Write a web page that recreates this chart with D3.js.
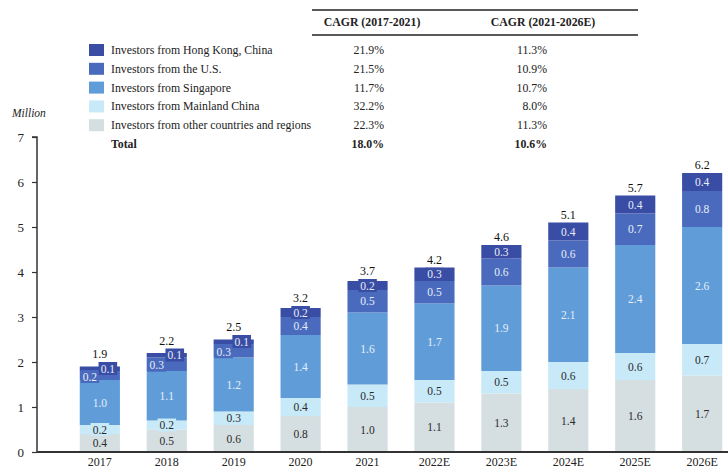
<!DOCTYPE html>
<html>
<head>
<meta charset="utf-8">
<script src="https://cdn.jsdelivr.net/npm/d3@7"></script>
<style>
  html, body { margin: 0; padding: 0; background: #fff; }
  svg { display: block; font-family: "Liberation Serif", "DejaVu Serif", serif; }
</style>
</head>
<body>
<svg id="chart" width="728" height="470"></svg>
<script>
// ---------- data ----------
const years = ["2017","2018","2019","2020","2021","2022E","2023E","2024E","2025E","2026E"];
const seriesNames = [
  "Investors from other countries and regions",
  "Investors from Mainland China",
  "Investors from Singapore",
  "Investors from the U.S.",
  "Investors from Hong Kong, China"
];
const otherValues     = [0.4,0.5,0.6,0.8,1.0,1.1,1.3,1.4,1.6,1.7];
const mainlandValues  = [0.2,0.2,0.3,0.4,0.5,0.5,0.5,0.6,0.6,0.7];
const singaporeValues = [1.0,1.1,1.2,1.4,1.6,1.7,1.9,2.1,2.4,2.6];
const usValues        = [0.2,0.3,0.3,0.4,0.5,0.5,0.6,0.6,0.7,0.8];
const hkValues        = [0.1,0.1,0.1,0.2,0.2,0.3,0.3,0.4,0.4,0.4];
const totalValues     = [1.9,2.2,2.5,3.2,3.7,4.2,4.6,5.1,5.7,6.2];
const yTicks = [0,1,2,3,4,5,6,7];

// legend / CAGR table (top to bottom)
const legendNames = [
  "Investors from Hong Kong, China",
  "Investors from the U.S.",
  "Investors from Singapore",
  "Investors from Mainland China",
  "Investors from other countries and regions"
];
const cagrHeaders = ["CAGR (2017-2021)", "CAGR (2021-2026E)"];
const cagr1 = ["21.9%","21.5%","11.7%","32.2%","22.3%"];
const cagr2 = ["11.3%","10.9%","10.7%","8.0%","11.3%"];
const totalLabel = "Total";
const totalCagr = ["18.0%","10.6%"];

// ---------- styles ----------
const colors = {
  "Investors from other countries and regions": "#d5dfe1",
  "Investors from Mainland China": "#c8e9f8",
  "Investors from Singapore": "#609dd8",
  "Investors from the U.S.": "#4a6bbd",
  "Investors from Hong Kong, China": "#3a4da5"
};
const lightText = "#e6edf8", darkText = "#2a2a2a";
const textColorFor = {
  "Investors from other countries and regions": darkText,
  "Investors from Mainland China": darkText,
  "Investors from Singapore": lightText,
  "Investors from the U.S.": lightText,
  "Investors from Hong Kong, China": lightText
};

const svg = d3.select("#chart");
const W = 728, H = 470;
const axisX = 37;

const x = d3.scaleBand().domain(years).range([53, 749]).paddingInner(0.4).paddingOuter(0.4);
const y = d3.scaleLinear().domain([0, 7]).range([452, 137]);

// stacked data
const rows = years.map((yr, i) => ({
  year: yr,
  "Investors from other countries and regions": otherValues[i],
  "Investors from Mainland China": mainlandValues[i],
  "Investors from Singapore": singaporeValues[i],
  "Investors from the U.S.": usValues[i],
  "Investors from Hong Kong, China": hkValues[i]
}));
const stack = d3.stack().keys(seriesNames)(rows);

// bars
const gBars = svg.append("g");
stack.forEach(layer => {
  gBars.selectAll(null).data(layer).enter().append("rect")
    .attr("x", d => x(d.data.year))
    .attr("width", x.bandwidth())
    .attr("y", d => y(d[1]))
    .attr("height", d => y(d[0]) - y(d[1]))
    .attr("fill", colors[layer.key]);
});

// segment labels with background boxes
const gLab = svg.append("g").attr("font-size", 11.5);
const topExtent = years.map(yr => y(0));
stack.forEach(layer => {
  layer.forEach((d, i) => {
    const key = layer.key;
    const v = d[1] - d[0];
    let cx = x(d.data.year) + x.bandwidth() / 2;
    let cy = (y(d[0]) + y(d[1])) / 2;
    const hkTiny = hkValues[i] < 0.15;
    if (hkTiny && key === "Investors from the U.S.") { cx -= 10; cy += 1; }
    if (hkTiny && key === "Investors from Hong Kong, China") { cx += 8; cy = y(d[1]) + 2; }
    const txt = v.toFixed(1);
    const t = gLab.append("text")
      .attr("x", cx).attr("y", cy)
      .attr("text-anchor", "middle")
      .attr("dominant-baseline", "central")
      .attr("fill", textColorFor[key])
      .text(txt);
    const bb = t.node().getBBox();
    const bw = bb.width + 4, bh = 13;
    gLab.insert("rect", () => t.node())
      .attr("x", cx - bw / 2).attr("y", cy - bh / 2)
      .attr("width", bw).attr("height", bh)
      .attr("fill", colors[key]);
    topExtent[i] = Math.min(topExtent[i], y(d[1]), cy - bh / 2);
  });
});

// totals
svg.append("g").selectAll("text").data(years).enter().append("text")
  .attr("x", d => x(d) + x.bandwidth() / 2)
  .attr("y", (d, i) => topExtent[i] - 4)
  .attr("text-anchor", "middle")
  .attr("font-size", 12)
  .attr("fill", "#111")
  .text((d, i) => totalValues[i].toFixed(1));

// y axis
const yAxis = d3.axisLeft(y).tickValues(yTicks).tickSize(5).tickPadding(8).tickFormat(d3.format("d"));
const gy = svg.append("g").attr("transform", `translate(${axisX},0)`).call(yAxis);
gy.select(".domain").attr("stroke", "#333").attr("stroke-width", 1.5).attr("d", `M-5,${y(7)}H0V${y(0)}`);
gy.selectAll(".tick line").attr("stroke", "#333").attr("stroke-width", 1.2);
gy.selectAll(".tick text").attr("font-family", "Liberation Serif, serif").attr("font-size", 13).attr("fill", "#222");

// x axis
const xAxis = d3.axisBottom(x).tickSize(0).tickPadding(0);
const gx = svg.append("g").attr("transform", `translate(0,${y(0)})`).call(xAxis);
gx.select(".domain").remove();
gx.selectAll(".tick text").attr("font-family", "Liberation Serif, serif").attr("font-size", 12)
  .attr("fill", "#222").attr("dy", null).attr("y", 14);
svg.append("line").attr("x1", axisX).attr("x2", W).attr("y1", y(0)).attr("y2", y(0))
  .attr("stroke", "#333").attr("stroke-width", 2.2);

// unit label
svg.append("text").attr("x", 12).attr("y", 117).attr("font-style", "italic")
  .attr("font-size", 11.5).attr("fill", "#222").text("Million");

// ---------- legend table ----------
const lg = svg.append("g").attr("font-size", 11.8).attr("fill", "#222");
const tblX1 = 312, tblX2 = 638;
lg.append("line").attr("x1", tblX1).attr("x2", tblX2).attr("y1", 10).attr("y2", 10).attr("stroke", "#222").attr("stroke-width", 1.3);
lg.append("line").attr("x1", tblX1).attr("x2", tblX2).attr("y1", 35).attr("y2", 35).attr("stroke", "#222").attr("stroke-width", 1.3);
const colCenters = [372, 543];
const colRight = [384, 547];
cagrHeaders.forEach((h, j) => {
  lg.append("text").attr("x", colCenters[j]).attr("y", 26).attr("text-anchor", "middle")
    .attr("font-weight", "bold").text(h);
});
const rowY = d3.scaleLinear().domain([0, 5]).range([50, 144]);
legendNames.forEach((name, i) => {
  const cy = rowY(i);
  lg.append("rect").attr("x", 89).attr("y", cy - 6).attr("width", 15).attr("height", 12).attr("fill", colors[name]);
  lg.append("text").attr("x", 111).attr("y", cy).attr("dominant-baseline", "central").text(name);
  lg.append("text").attr("x", colRight[0]).attr("y", cy).attr("dominant-baseline", "central").attr("text-anchor", "end").text(cagr1[i]);
  lg.append("text").attr("x", colRight[1]).attr("y", cy).attr("dominant-baseline", "central").attr("text-anchor", "end").text(cagr2[i]);
});
lg.append("text").attr("x", 111).attr("y", rowY(5)).attr("dominant-baseline", "central").attr("font-weight", "bold").text(totalLabel);
totalCagr.forEach((c, j) => {
  lg.append("text").attr("x", colRight[j]).attr("y", rowY(5)).attr("dominant-baseline", "central")
    .attr("text-anchor", "end").attr("font-weight", "bold").text(c);
});
</script>
</body>
</html>
